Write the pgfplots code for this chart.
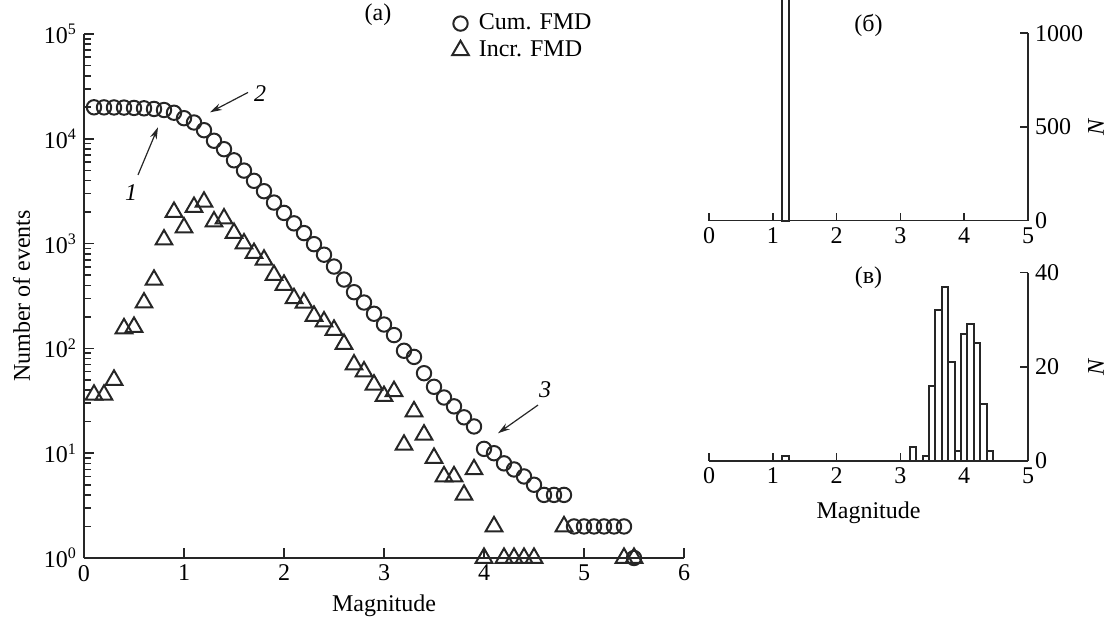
\documentclass[border=0pt]{standalone}
\usepackage{fontspec}
\setmainfont{Liberation Serif}
\usepackage{pgfplots}
\pgfplotsset{compat=1.18}
\usetikzlibrary{arrows.meta}

\pgfplotstableread{
M N
0.1 19983
0.2 19947
0.3 19911
0.4 19861
0.5 19706
0.6 19546
0.7 19273
0.8 18823
0.9 17733
1.0 15733
1.1 14313
1.2 12083
1.3 9583
1.4 7963
1.5 6233
1.6 4973
1.7 3973
1.8 3163
1.9 2463
2.0 1963
2.1 1560
2.2 1260
2.3 988
2.4 784
2.5 604
2.6 454
2.7 344
2.8 274
2.9 214
3.0 169
3.1 134
3.2 95
3.3 83
3.4 58
3.5 43
3.6 34
3.7 28
3.8 22
3.9 18
4.0 11
4.1 10
4.2 8
4.3 7
4.4 6
4.5 5
4.6 4
4.7 4
4.8 4
4.9 2
5.0 2
5.1 2
5.2 2
5.3 2
5.4 2
5.5 1
}\cumfmd

\pgfplotstableread{
M N
0.1 36
0.2 36
0.3 50
0.4 155
0.5 160
0.6 273
0.7 450
0.8 1090
0.9 2000
1.0 1420
1.1 2230
1.2 2500
1.3 1620
1.4 1730
1.5 1260
1.6 1000
1.7 810
1.8 700
1.9 500
2.0 403
2.1 300
2.2 272
2.3 204
2.4 180
2.5 150
2.6 110
2.7 70
2.8 60
2.9 45
3.0 35
3.1 39
3.2 12
3.3 25
3.4 15
3.5 9
3.6 6
3.7 6
3.8 4
3.9 7
4.0 1
4.1 2
4.2 1
4.3 1
4.4 1
4.5 1
4.8 2
5.4 1
5.5 1
}\incfmd

\begin{document}
\begin{tikzpicture}
\path[use as bounding box] (0,0) rectangle (556pt,311pt);
\pgfplotsset{every axis/.append style={
    scale only axis,
    anchor=south west,
    tick align=inside,
    font=\fontsize{12}{14}\selectfont,
    /pgf/number format/assume math mode=true,
    /pgf/number format/set thousands separator={},
    axis line style={line width=0.8pt, black!85},
    every tick/.style={line width=0.8pt, black!85},
    major tick length=5pt,
    minor tick length=3.5pt,
    clip=false,
}}

% (a) frequency-magnitude distributions
\begin{axis}[
    at={(42pt,32pt)},
    width=300pt, height=262pt,
    ymode=log,
    xmin=0, xmax=6, ymin=1, ymax=1e5,
    axis x line*=bottom, axis y line*=left,
    xtick={0,...,6},
    ytick={1,10,100,1000,10000,100000},
    yticklabels={10\textsuperscript{0},10\textsuperscript{1},10\textsuperscript{2},10\textsuperscript{3},10\textsuperscript{4},10\textsuperscript{5}},
    minor ytick={2,3,4,5,6,7,8,9,20,30,40,50,60,70,80,90,200,300,400,500,600,700,800,900,2000,3000,4000,5000,6000,7000,8000,9000,20000,30000,40000,50000,60000,70000,80000,90000},
    xlabel={Magnitude},
    ylabel={Number of events},
    title={(а)},
    every axis title/.style={at={(axis description cs:0.49,1)}, anchor=center, yshift=9.5pt},
    legend style={at={(axis description cs:0.603,1.054)}, anchor=north west, draw=none, fill=none,
        row sep=0pt, column sep=3pt, font=\fontsize{12}{14}\selectfont},
    legend cell align=left,
]
\addplot[only marks, mark=o, mark size=3.6pt, mark options={line width=1pt, draw=black!85}]
    table[x=M, y=N] {\cumfmd};
\addplot[only marks, mark=triangle, mark size=4.8pt, mark options={line width=1pt, draw=black!85}]
    table[x=M, y=N] {\incfmd};
\legend{Cum. FMD, Incr. FMD}

\draw[-{Stealth[length=6pt,width=3.5pt]}, line width=0.6pt, black!85] (axis cs:0.54,4520) -- (axis cs:0.74,12900);
\node[font=\fontsize{12}{14}\selectfont\itshape] at (axis cs:0.47,3100) {1};
\draw[-{Stealth[length=6pt,width=3.5pt]}, line width=0.6pt, black!85] (axis cs:1.64,27700) -- (axis cs:1.26,17900);
\node[font=\fontsize{12}{14}\selectfont\itshape] at (axis cs:1.76,27000) {2};
\draw[-{Stealth[length=6pt,width=3.5pt]}, line width=0.6pt, black!85] (axis cs:4.54,28.8) -- (axis cs:4.14,15.5);
\node[font=\fontsize{12}{14}\selectfont\itshape] at (axis cs:4.61,40) {3};
\end{axis}

% (b) histogram
\begin{axis}[
    at={(354.5pt,200.65pt)},
    width=159.5pt, height=93.7pt,
    xmin=0, xmax=5, ymin=0, ymax=1000,
    axis x line*=bottom, axis y line*=right,
    xtick={0,...,5}, ytick={0,500,1000},
    major tick length=4pt,
    ylabel={\textit{N}},
    every axis y label/.style={at={(axis description cs:1,0.5)}, xshift=34pt, rotate=90, anchor=center},
    title={(б)},
    every axis title/.style={at={(axis description cs:0.5,1)}, anchor=center, yshift=4pt},
]
\addplot[ybar, bar width=0.1, fill=white, draw=black!85, line width=1pt] coordinates {(1.2,2500)};
\end{axis}

% (c) histogram
\begin{axis}[
    at={(354.5pt,80.65pt)},
    width=159.5pt, height=94pt,
    xmin=0, xmax=5, ymin=0, ymax=40,
    axis x line*=bottom, axis y line*=right,
    xtick={0,...,5}, ytick={0,20,40},
    major tick length=4pt,
    xlabel={Magnitude},
    xlabel style={yshift=-2pt},
    ylabel={\textit{N}},
    every axis y label/.style={at={(axis description cs:1,0.5)}, xshift=34pt, rotate=90, anchor=center},
    title={(в)},
    every axis title/.style={at={(axis description cs:0.5,1)}, anchor=center, yshift=-2.7pt},
]
\addplot[ybar, bar width=0.1, fill=white, draw=black!85, line width=1pt] coordinates {
(1.2,1) (3.2,3) (3.4,1) (3.5,16) (3.6,32) (3.7,37) (3.8,21) (3.9,2)
(4.0,27) (4.1,29) (4.2,25) (4.3,12) (4.4,2)};
\end{axis}
\end{tikzpicture}
\end{document}
